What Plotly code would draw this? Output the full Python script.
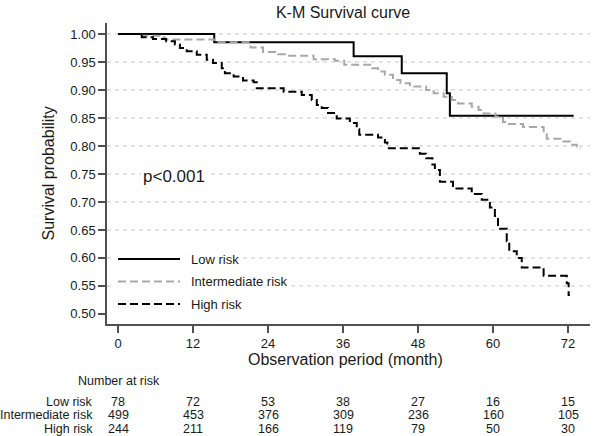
import plotly.graph_objects as go

# ---------------- data ----------------
low_t = [0, 15.4, 37.7, 45.4, 52.6, 53.1, 72.9]
low_s = [1.0, 0.985, 0.960, 0.930, 0.894, 0.854, 0.854]

int_t = [0, 3.8, 6.7, 7.5, 15.5, 21.2, 23.2, 25.6, 27.0, 31.3, 34.7, 36.2, 40.7, 41.6, 42.7,
         44.0, 45.2, 46.7, 49.3, 50.5, 52.1, 53.4, 54.4, 56.6, 57.7, 58.5, 60.4, 61.6, 62.2,
         64.8, 68.1, 68.6, 71.0, 72.3, 73.4, 74.0]
int_s = [1.0, 0.997, 0.994, 0.990, 0.985, 0.976, 0.968, 0.964, 0.961, 0.955, 0.952, 0.945, 0.939,
         0.933, 0.927, 0.918, 0.912, 0.906, 0.900, 0.894, 0.888, 0.882, 0.876, 0.870, 0.864,
         0.858, 0.852, 0.843, 0.839, 0.834, 0.823, 0.813, 0.808, 0.802, 0.796, 0.796]

high_t = [0, 3.8, 5.6, 7.7, 9.1, 9.9, 11.0, 12.6, 14.2, 15.2, 16.6, 17.1, 18.5, 20.0, 21.7,
          22.2, 26.5, 29.4, 31.0, 31.8, 32.6, 33.6, 35.0, 37.1, 38.2, 38.6, 41.6, 42.7, 43.1,
          48.3, 49.3, 50.3, 50.7, 51.5, 53.6, 56.6, 58.2, 59.5, 60.3, 60.8, 62.2, 62.6, 63.8,
          64.6, 68.1, 71.8, 72.1, 72.3]
high_s = [1.0, 0.994, 0.991, 0.987, 0.981, 0.975, 0.969, 0.963, 0.954, 0.948, 0.939, 0.930,
          0.924, 0.917, 0.914, 0.903, 0.897, 0.891, 0.882, 0.873, 0.868, 0.859, 0.849, 0.841,
          0.830, 0.820, 0.815, 0.806, 0.796, 0.786, 0.778, 0.767, 0.757, 0.736, 0.724, 0.714,
          0.704, 0.690, 0.675, 0.652, 0.630, 0.612, 0.600, 0.583, 0.568, 0.555, 0.534, 0.534]

groups = ["Low risk", "Intermediate risk", "High risk"]
risk_times = [0, 12, 24, 36, 48, 60, 72]
risk_low = [78, 72, 53, 38, 27, 16, 15]
risk_int = [499, 453, 376, 309, 236, 160, 105]
risk_high = [244, 211, 166, 119, 79, 50, 30]

y_ticks = [0.50, 0.55, 0.60, 0.65, 0.70, 0.75, 0.80, 0.85, 0.90, 0.95, 1.00]
grid_vals = [0.55, 0.60, 0.65, 0.70, 0.75, 0.80, 0.85, 0.90, 0.95, 1.00]

# ---------------- geometry helpers ----------------
W, H = 600, 436
PL, PR, PT, PB = 107, 590, 23, 324
FONT = "Liberation Sans, Arial, sans-serif"


def px_x(px):
    return (px - PL) / (PR - PL)


def px_y(py):
    return (PB - py) / (PB - PT)


styles = [
    dict(color="#000000", width=2, dash="solid"),
    dict(color="#a8a8a8", width=2, dash="8px,4px"),
    dict(color="#000000", width=2, dash="8px,4px"),
]

fig = go.Figure()
for name, t, s, st in zip(groups, [low_t, int_t, high_t], [low_s, int_s, high_s], styles):
    fig.add_trace(go.Scatter(x=t, y=s, mode="lines", name=name, line_shape="hv",
                             line=st, showlegend=False, hoverinfo="skip"))

shapes = []
for g in grid_vals:
    shapes.append(dict(type="line", xref="paper", yref="y", x0=0, x1=1, y0=g, y1=g,
                       line=dict(color="#c8c8c8", width=1, dash="4px,4px"), layer="below"))

annotations = []
leg_y = [259, 281.5, 304]
for name, st, ly in zip(groups, styles, leg_y):
    shapes.append(dict(type="rect", xref="paper", yref="paper", x0=px_x(111), x1=px_x(192),
                       y0=px_y(ly + 8), y1=px_y(ly - 8), fillcolor="white",
                       line=dict(width=0), layer="below"))
    shapes.append(dict(type="line", xref="paper", yref="paper", x0=px_x(118), x1=px_x(180),
                       y0=px_y(ly), y1=px_y(ly), line=st, layer="above"))
    annotations.append(dict(text=name, xref="paper", yref="paper", x=px_x(189), y=px_y(ly),
                            xanchor="left", yanchor="middle", showarrow=False,
                            font=dict(size=13, color="#1a1a1a", family=FONT),
                            bgcolor="white", borderpad=1))

annotations.append(dict(text="p<0.001", xref="paper", yref="paper", x=px_x(174), y=px_y(176),
                        xanchor="center", yanchor="middle", showarrow=False,
                        font=dict(size=17, color="#1a1a1a", family=FONT), bgcolor="white"))

annotations.append(dict(text="Survival probability", xref="paper", yref="paper", x=0, y=0.5,
                        xshift=48 - PL, xanchor="center", yanchor="middle", textangle=-90,
                        showarrow=False, font=dict(size=16, color="#1a1a1a", family=FONT)))

annotations.append(dict(text="Observation period (month)", xref="paper", yref="paper",
                        x=px_x(345), y=px_y(359), xanchor="center", yanchor="middle",
                        showarrow=False, font=dict(size=16, color="#1a1a1a", family=FONT)))

annotations.append(dict(text="Number at risk", xref="paper", yref="paper", x=px_x(76),
                        y=px_y(381), xanchor="left", yanchor="middle", showarrow=False,
                        font=dict(size=12.5, color="#1a1a1a", family=FONT)))

row_y = [401.5, 415, 428.5]
for name, counts, ry in zip(groups, [risk_low, risk_int, risk_high], row_y):
    annotations.append(dict(text=name, xref="paper", yref="paper", x=px_x(95), y=px_y(ry),
                            xanchor="right", yanchor="middle", showarrow=False,
                            font=dict(size=12.5, color="#1a1a1a", family=FONT)))
    for t, c in zip(risk_times, counts):
        annotations.append(dict(text=str(c), xref="x", yref="paper", x=t, y=px_y(ry),
                                xanchor="center", yanchor="middle", showarrow=False,
                                font=dict(size=12.5, color="#1a1a1a", family=FONT)))

fig.update_layout(
    width=W, height=H,
    margin=dict(l=PL, r=W - PR, t=PT, b=H - PB),
    plot_bgcolor="white", paper_bgcolor="white",
    showlegend=False,
    title=dict(text="K-M Survival curve", x=343 / W, xanchor="center",
               y=1 - 12 / H, yanchor="middle",
               font=dict(size=16, color="#1a1a1a", family=FONT)),
    xaxis=dict(range=[(PL - 118) / 6.25, (PR - 118) / 6.25], tickvals=risk_times,
               ticks="outside", ticklen=7,
               tickcolor="#505050", tickwidth=1.5, showgrid=False, zeroline=False,
               showline=True, linecolor="#505050", linewidth=1.5, automargin=False,
               tickfont=dict(size=13, color="#1a1a1a", family=FONT)),
    yaxis=dict(range=[0.482, 1.0196], tickvals=y_ticks, tickformat=".2f", ticks="outside",
               ticklen=7, tickcolor="#505050", tickwidth=1.5, showgrid=False, zeroline=False,
               showline=True, linecolor="#505050", linewidth=1.5, automargin=False,
               tickfont=dict(size=13, color="#1a1a1a", family=FONT)),
    shapes=shapes,
    annotations=annotations,
)

fig.write_html("out.html", config={"displayModeBar": False},
               post_script="document.body.style.margin='0';")
